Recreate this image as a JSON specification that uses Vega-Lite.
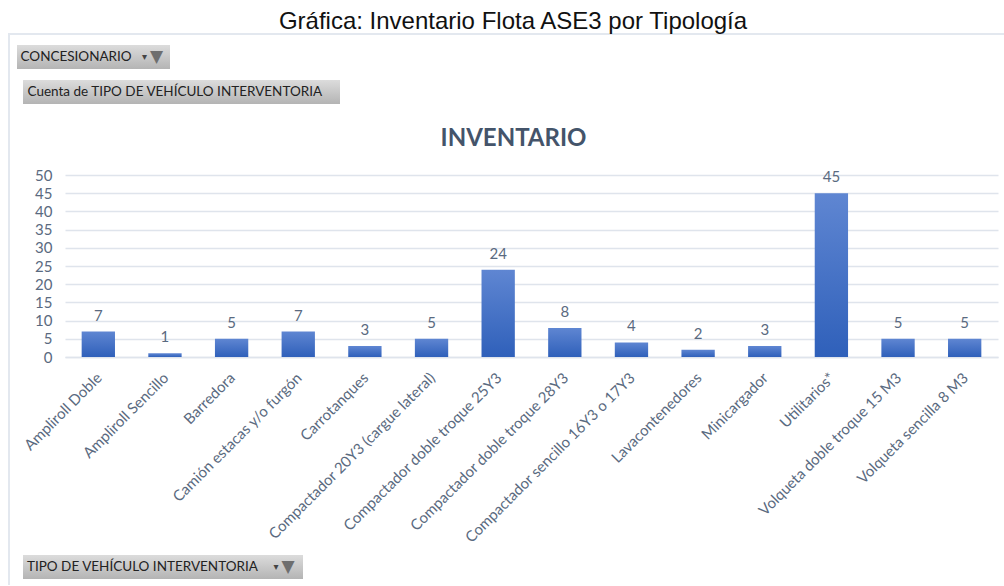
{
"$schema":"https://vega.github.io/schema/vega-lite/v6.json",
"background":"white",
"padding":{"left":8,"top":10,"right":0,"bottom":0},
"title":{"text":"Gráfica: Inventario Flota ASE3 por Tipología","font":"Liberation Sans","fontSize":24,"fontWeight":"normal","color":"#111111","anchor":"middle","offset":-6,"dx":7},
"config":{"view":{"stroke":null},"font":"Lato"},
"spacing":0,"bounds":"flush",
"hconcat":[
 {"width":2,"height":552,"view":{"fill":"#e3e8ef"},"data":{"values":[{"t":""}]},"mark":{"type":"text"},"encoding":{"text":{"field":"t"}}},
 {"spacing":0,"bounds":"flush","vconcat":[
  {"width":994,"height":2,"view":{"fill":"#e3e8ef"},"data":{"values":[{"t":""}]},"mark":{"type":"text"},"encoding":{"text":{"field":"t"}}},
  {"width":994,"height":10,"data":{"values":[{"t":""}]},"mark":{"type":"text"},"encoding":{"text":{"field":"t"}}},
  {"spacing":0,"bounds":"flush","hconcat":[
    {"width":7,"height":24,"data":{"values":[{"t":""}]},"mark":{"type":"text"},"encoding":{"text":{"field":"t"}}},
    {"width":153,"height":24,"view":{"fill":{"gradient":"linear","x1":0,"y1":0,"x2":0,"y2":1,"stops":[{"offset":0,"color":"#dcdcdc"},{"offset":1,"color":"#b4b4b4"}]}},
     "data":{"values":[{"label":"CONCESIONARIO","icon":"▼","caret":"▾"}]},
     "layer":[
      {"mark":{"type":"text","align":"left","dx":-73,"fontSize":13.5,"color":"#222222"},"encoding":{"text":{"field":"label"}}},
      {"mark":{"type":"text","align":"center","dx":51,"fontSize":10,"color":"#444444","font":"DejaVu Sans"},"encoding":{"text":{"field":"caret"}}},
      {"mark":{"type":"text","align":"center","dx":63,"fontSize":17,"color":"#6e6e6e","font":"DejaVu Sans"},"encoding":{"text":{"field":"icon"}}}
     ]}
  ]},
  {"width":994,"height":35,"data":{"values":[{"t":""}]},"mark":{"type":"text"},"encoding":{"text":{"field":"t"}}},
  {"spacing":0,"bounds":"flush","hconcat":[
    {"width":13,"height":24,"data":{"values":[{"t":""}]},"mark":{"type":"text"},"encoding":{"text":{"field":"t"}}},
    {"width":317,"height":24,"view":{"fill":{"gradient":"linear","x1":0,"y1":0,"x2":0,"y2":1,"stops":[{"offset":0,"color":"#dcdcdc"},{"offset":1,"color":"#b4b4b4"}]}},
     "data":{"values":[{"label":"Cuenta de TIPO DE VEHÍCULO INTERVENTORIA"}]},
     "mark":{"type":"text","align":"left","dx":-154,"fontSize":13.5,"color":"#222222"},"encoding":{"text":{"field":"label"}}}
  ]},
  {"width":994,"height":95,"data":{"values":[{"t":""}]},"mark":{"type":"text"},"encoding":{"text":{"field":"t"}}},
  {"spacing":0,"bounds":"flush","hconcat":[
    {"width":55,"height":182,"data":{"values":[{"t":""}]},"mark":{"type":"text"},"encoding":{"text":{"field":"t"}}},
    {"width":933,"height":182,
     "title":{"text":"INVENTARIO","font":"Lato","fontSize":24,"fontWeight":"bold","color":"#44546a","anchor":"middle","frame":"group","dx":-18,"offset":17},
     "data":{"values":[
      {"tipo":"Ampliroll Doble","cuenta":7},
      {"tipo":"Ampliroll Sencillo","cuenta":1},
      {"tipo":"Barredora","cuenta":5},
      {"tipo":"Camión estacas y/o furgón","cuenta":7},
      {"tipo":"Carrotanques","cuenta":3},
      {"tipo":"Compactador 20Y3 (cargue lateral)","cuenta":5},
      {"tipo":"Compactador doble troque 25Y3","cuenta":24},
      {"tipo":"Compactador doble troque 28Y3","cuenta":8},
      {"tipo":"Compactador sencillo 16Y3 o 17Y3","cuenta":4},
      {"tipo":"Lavacontenedores","cuenta":2},
      {"tipo":"Minicargador","cuenta":3},
      {"tipo":"Utilitarios*","cuenta":45},
      {"tipo":"Volqueta doble troque 15 M3","cuenta":5},
      {"tipo":"Volqueta sencilla 8 M3","cuenta":5}
     ]},
     "encoding":{
      "x":{"field":"tipo","type":"nominal","sort":null,"title":null,
       "scale":{"paddingInner":0.5,"paddingOuter":0.25},
       "axis":{"labelAngle":-45,"labelFontSize":15,"labelColor":"#5a6a80","labelLimit":400,"labelPadding":13,"labelOffset":-4,"ticks":false,"domainColor":"#dfe4ec","domainWidth":1.5,"labelOverlap":false}},
      "y":{"field":"cuenta","type":"quantitative","title":null,
       "scale":{"domain":[0,50]},
       "axis":{"values":[0,5,10,15,20,25,30,35,40,45,50],"labelFontSize":15,"labelColor":"#5a6a80","labelPadding":13,"ticks":false,"domain":false,"gridColor":"#dfe4ec","gridWidth":1.5}}
     },
     "layer":[
      {"mark":{"type":"bar","color":{"gradient":"linear","x1":0,"y1":0,"x2":0,"y2":1,"stops":[{"offset":0,"color":"#5f86d2"},{"offset":1,"color":"#2f60ba"}]}}},
      {"mark":{"type":"text","baseline":"bottom","dy":-8,"fontSize":15,"color":"#5a6a80"},"encoding":{"text":{"field":"cuenta","type":"quantitative"}}}
     ]}
  ]},
  {"width":994,"height":380,"data":{"values":[{"t":""}]},"mark":{"type":"text"},"encoding":{"text":{"field":"t"}}},
  {"spacing":0,"bounds":"flush","hconcat":[
    {"width":13,"height":24,"data":{"values":[{"t":""}]},"mark":{"type":"text"},"encoding":{"text":{"field":"t"}}},
    {"width":280,"height":24,"view":{"fill":{"gradient":"linear","x1":0,"y1":0,"x2":0,"y2":1,"stops":[{"offset":0,"color":"#dcdcdc"},{"offset":1,"color":"#b4b4b4"}]}},
     "data":{"values":[{"label":"TIPO DE VEHÍCULO INTERVENTORIA","icon":"▼","caret":"▾"}]},
     "layer":[
      {"mark":{"type":"text","align":"left","dx":-136,"fontSize":13.5,"color":"#222222"},"encoding":{"text":{"field":"label"}}},
      {"mark":{"type":"text","align":"center","dx":113,"fontSize":10,"color":"#444444","font":"DejaVu Sans"},"encoding":{"text":{"field":"caret"}}},
      {"mark":{"type":"text","align":"center","dx":125,"fontSize":17,"color":"#6e6e6e","font":"DejaVu Sans"},"encoding":{"text":{"field":"icon"}}}
     ]}
  ]},
  {"width":994,"height":32,"data":{"values":[{"t":""}]},"mark":{"type":"text"},"encoding":{"text":{"field":"t"}}}
 ]}
]
}
